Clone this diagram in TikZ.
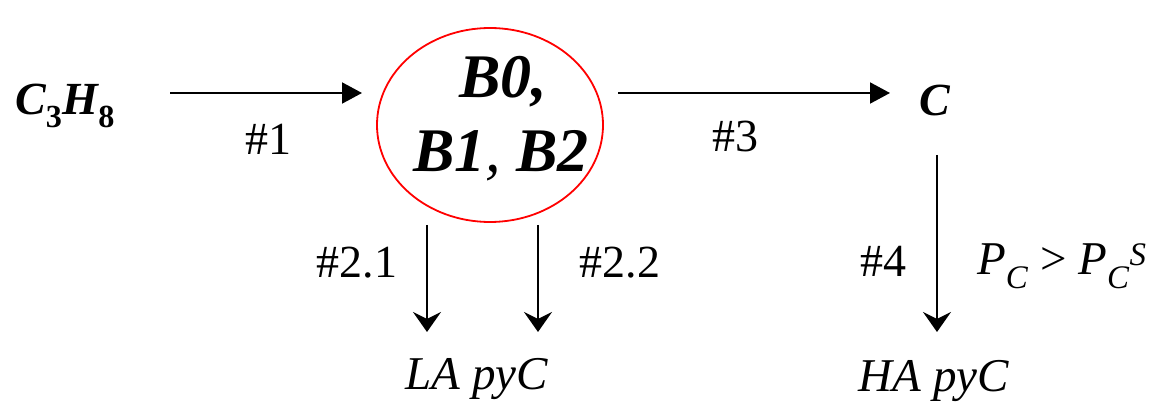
\documentclass[tikz,border=0pt]{standalone}
\usepackage{fontspec}
\setmainfont{Liberation Serif}
\usetikzlibrary{arrows.meta,shapes.geometric}
\begin{document}
\begin{tikzpicture}[x=1pt,y=-1pt,
  lbl/.style={font=\fontsize{46}{50}\selectfont, inner sep=0pt, anchor=base},
  chem/.style={font=\fontsize{46}{50}\selectfont\bfseries\itshape, inner sep=0pt},
  bigb/.style={font=\fontsize{62}{66}\selectfont\bfseries\itshape, inner sep=0pt, anchor=base},
  prod/.style={font=\fontsize{47}{50}\selectfont\itshape, inner sep=0pt, anchor=base},
  harrow/.style={line width=2pt, -{Triangle[length=20pt,width=21pt]}},
  varrow/.style={line width=2pt, -{Stealth[length=20pt,width=28pt,inset=7pt]}}]
\useasboundingbox (0,0) rectangle (1171,406);

\node[chem, anchor=base west] (c3h8) at (15,115) {C\textsubscript{\textup{3}}H\textsubscript{\textup{8}}};
\node[draw=red, line width=1.8pt, ellipse, minimum width=226pt, minimum height=194pt, inner sep=0pt] (bb) at (490,125) {};
\node[bigb] (b0) at (503,98) {B0,};
\node[bigb] (b12) at (501,172) {B1\textmd{,} B2};
\node[chem, anchor=base] (c) at (935,116) {C};
\node[prod] (la) at (477,389) {LA pyC};
\node[prod] (ha) at (934,391) {HA pyC};

\coordinate (a1s) at (170,93);
\coordinate (a1e) at (362,93);
\coordinate (a3s) at (618,93);
\coordinate (a3e) at (890,93);
\coordinate (a21s) at (427,225);
\coordinate (a21e) at (427,332);
\coordinate (a22s) at (538,225);
\coordinate (a22e) at (538,332);
\coordinate (a4s) at (937,155);
\coordinate (a4e) at (937,332);

\draw[harrow] (a1s) -- (a1e);
\draw[harrow] (a3s) -- (a3e);
\draw[varrow] (a21s) -- (a21e);
\draw[varrow] (a22s) -- (a22e);
\draw[varrow] (a4s) -- (a4e);

\node[lbl] (l1) at (268,155) {\#1};
\node[lbl] (l3) at (735,152) {\#3};
\node[lbl] (l21) at (357,278) {\#2.1};
\node[lbl] (l22) at (620,278) {\#2.2};
\node[lbl] (l4) at (883,277) {\#4};
\node[prod, anchor=base west] (pc) at (977,275) {P\textsubscript{C} \textup{>} P\textsubscript{C}\textsuperscript{S}};
\end{tikzpicture}
\end{document}
